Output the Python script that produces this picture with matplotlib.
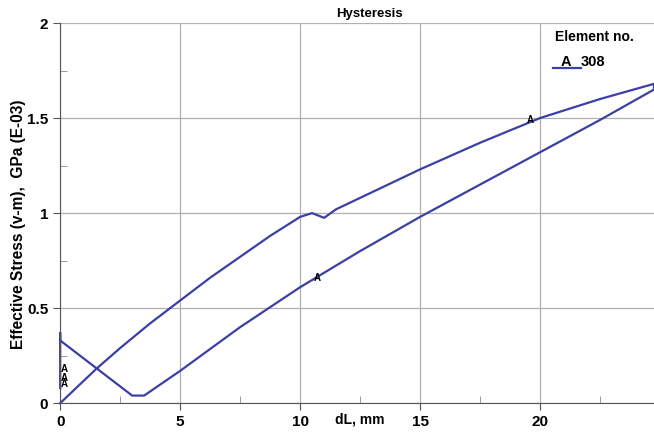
import matplotlib
matplotlib.use("Agg")
import matplotlib.pyplot as plt
from matplotlib.lines import Line2D

plt.rcParams['font.family'] = ['Liberation Sans', 'DejaVu Sans']

# hysteresis path: loading, unloading, reversal
dl = [0, 1.5, 2.5, 3.75, 5, 6.25, 7.5, 8.75, 10, 10.5, 11, 11.5, 13, 15, 17.5, 20, 22.5, 24.75,
      24.75, 22.5, 20, 17.5, 15, 12.5, 10, 7.5, 5, 3.5, 3.0, 0, 0, 0]
stress = [0, 0.18, 0.29, 0.42, 0.54, 0.66, 0.77, 0.88, 0.98, 1.0, 0.975, 1.02, 1.11, 1.23, 1.37, 1.5, 1.6, 1.68,
          1.65, 1.49, 1.32, 1.15, 0.98, 0.80, 0.61, 0.40, 0.17, 0.04, 0.04, 0.33, 0.37, 0.08]

marker_x = [0.15, 0.15, 0.15, 10.7, 19.6]
marker_y = [0.18, 0.13, 0.10, 0.66, 1.49]

line_col = '#3b3fa6'

fig = plt.figure(figsize=(6.54, 4.34), dpi=100)
ax = fig.add_axes([0.092, 0.071, 0.908, 0.876])

ax.plot(dl, stress, color=line_col, lw=1.6, clip_on=False)
for mx, my in zip(marker_x, marker_y):
    ax.text(mx, my, 'A', fontsize=7, fontweight='bold', ha='center', va='center')

ax.set_xlim(0, 24.75)
ax.set_ylim(0, 2)
ax.set_xticks([0, 5, 10, 15, 20])
ax.set_xticks([2.5, 7.5, 12.5, 17.5, 22.5], minor=True)
ax.set_yticks([0, 0.5, 1, 1.5, 2])
ax.set_yticklabels(['0', '0.5', '1', '1.5', '2'])
ax.set_yticks([0.25, 0.75, 1.25, 1.75], minor=True)
ax.grid(True, which='major', color='#b0b0b0', lw=0.9)
ax.tick_params(which='major', direction='out', length=5, labelsize=11, color='#555555')
ax.tick_params(which='minor', direction='in', length=5, color='#888888')
for lab in ax.get_xticklabels() + ax.get_yticklabels():
    lab.set_fontweight('bold')
for s in ['top', 'right']:
    ax.spines[s].set_visible(False)
for s in ['left', 'bottom']:
    ax.spines[s].set_color('#555555')

ax.set_xlabel('dL, mm', fontsize=10, fontweight='bold')
ax.xaxis.set_label_coords(0.505, -0.025)
ax.set_ylabel('Effective Stress (v-m),  GPa (E-03)', fontsize=11.2, fontweight='bold')
ax.yaxis.set_label_coords(-0.058, 0.47)
ax.set_title('Hysteresis', fontsize=9.5, fontweight='bold', x=0.52, pad=4)

# legend block
fig.text(0.848, 0.915, 'Element no.', fontsize=10, fontweight='bold', va='center')
fig.add_artist(Line2D([0.846, 0.888], [0.843, 0.843], color=line_col, lw=1.6))
fig.text(0.866, 0.856, 'A', fontsize=10.5, fontweight='bold', ha='center', va='center')
fig.text(0.888, 0.856, '308', fontsize=10.5, fontweight='bold', va='center')

fig.savefig('out.png', dpi=100)
